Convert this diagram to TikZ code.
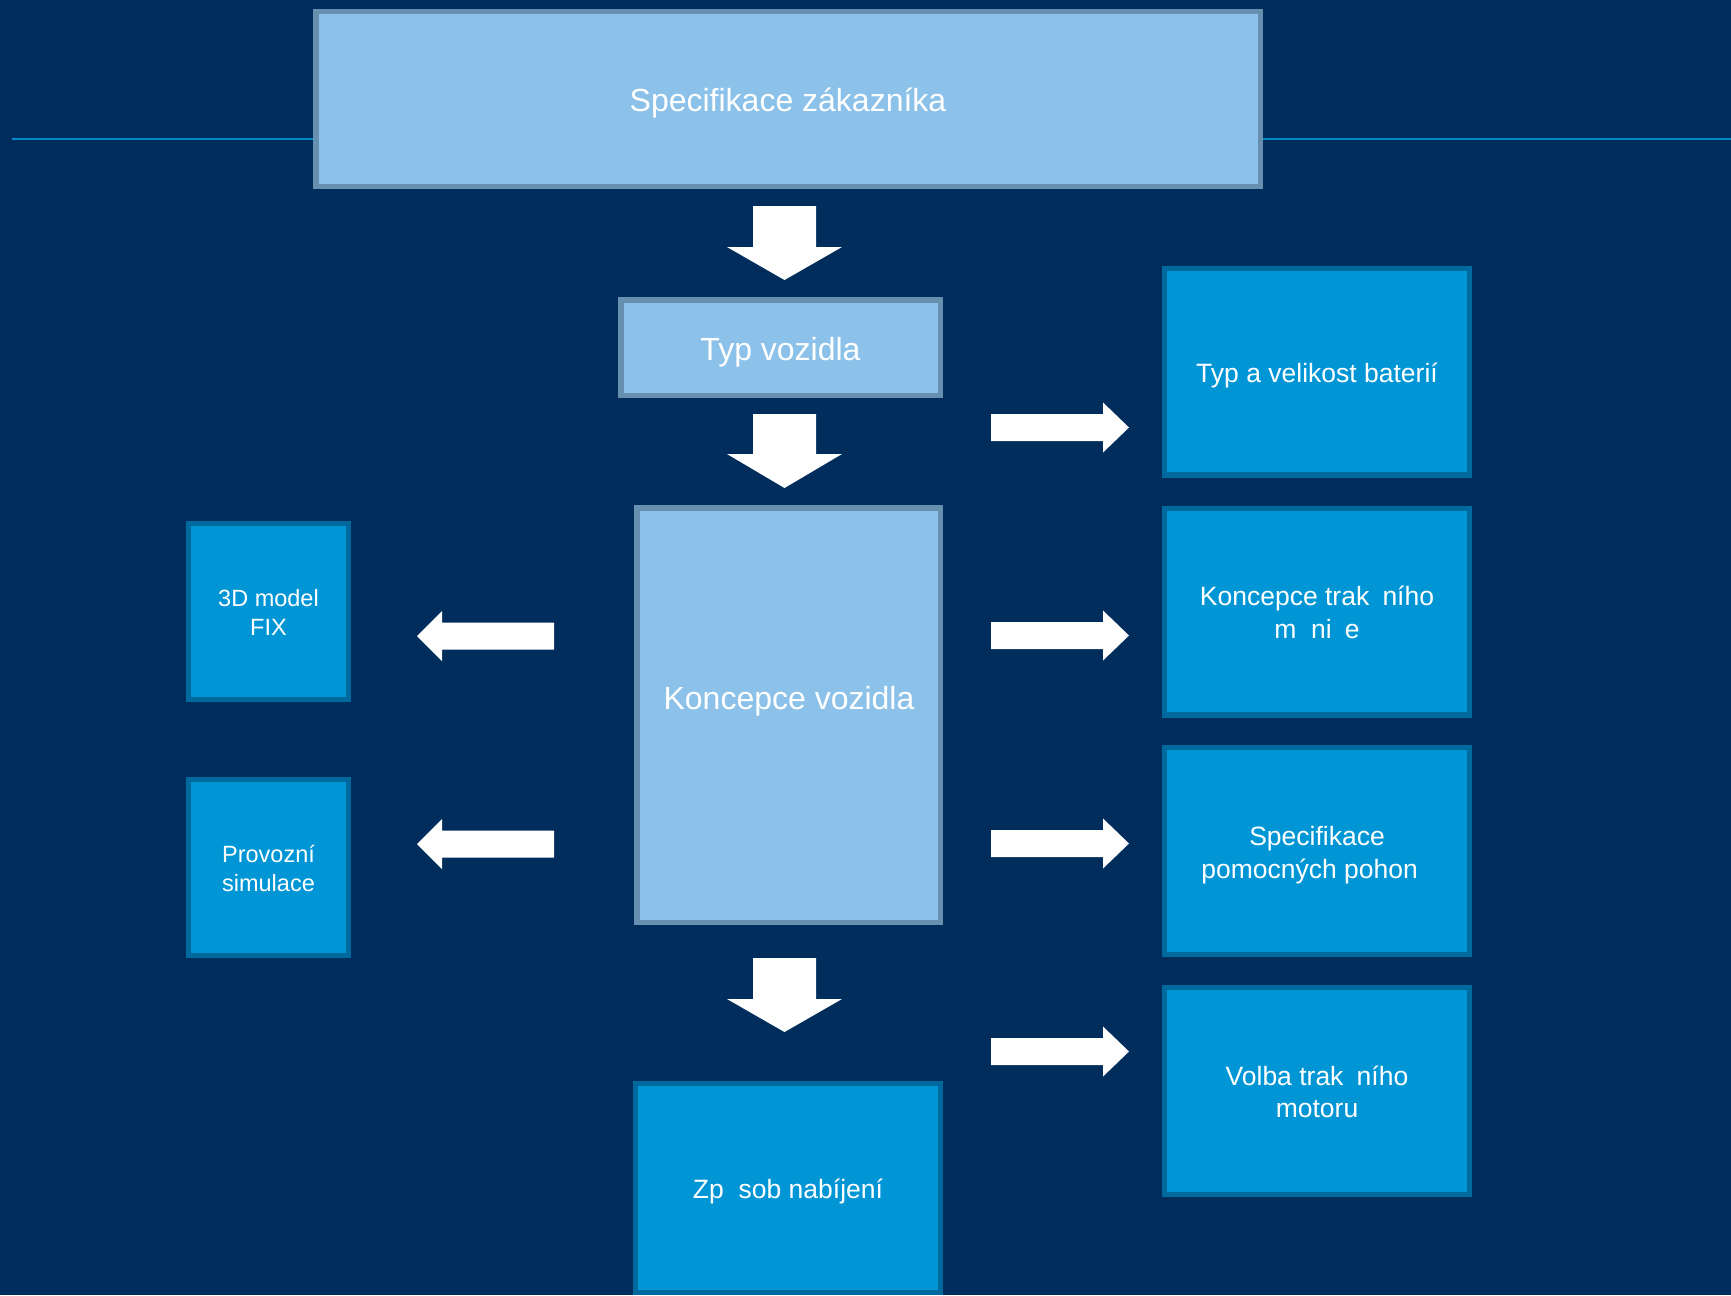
\documentclass[tikz,border=0pt]{standalone}
\usepackage{fontspec}
\setmainfont{Liberation Sans}
\usetikzlibrary{calc}
\definecolor{bgblue}{HTML}{002D5C}
\definecolor{lightfill}{HTML}{8CC2E9}
\definecolor{lightedge}{HTML}{668FB0}
\definecolor{midfill}{HTML}{0096D6}
\definecolor{midedge}{HTML}{006A9E}
\definecolor{rulecol}{HTML}{0088CC}
\newcommand{\boxstrut}{\rule[-0.2em]{0pt}{1.2em}}
\tikzset{
	lightbox/.style={draw=lightedge,fill=lightfill,line width=5.5pt,inner sep=0pt,outer sep=0pt,text=white,align=center},
	midbox/.style={draw=midedge,fill=midfill,line width=5.3pt,inner sep=0pt,outer sep=0pt,text=white,align=center},
	bigtext/.style={font=\fontsize{32}{38.4}\selectfont},
	midtext/.style={font=\fontsize{26.5}{31.8}\selectfont},
	smalltext/.style={font=\fontsize{23.5}{28.2}\selectfont},
	blockarrow/.style={fill=white}
}

\begin{document}
\begin{tikzpicture}[x=1pt,y=-1pt]
	\fill[bgblue] (0,0) rectangle (1731,1295);
	\useasboundingbox (0,0) rectangle (1731,1295);
\draw[rulecol,line width=2.5pt] (12,139) -- (1731,139);
\node[lightbox,bigtext,minimum width=944.5pt,minimum height=174.5pt] (spec) at (788,99) {\boxstrut Specifikace zákazníka};
\node[lightbox,bigtext,minimum width=319.5pt,minimum height=95.5pt] (typ) at (780.5,347.5) {\boxstrut Typ vozidla};
\node[lightbox,minimum width=303.5pt,minimum height=414.5pt] (koncepce) at (788.5,715) {};
\node[bigtext,text=white,inner sep=0pt] (koncepcetxt) at (789,697) {\boxstrut Koncepce vozidla};
	% right column
	\node[midbox,midtext,minimum width=304.7pt,minimum height=206.7pt] (baterie) at (1317,371.5) {\boxstrut Typ a velikost baterií};
	\node[midbox,midtext,minimum width=304.7pt,minimum height=206.7pt] (menic) at (1317,611.5) {\boxstrut Koncepce trak\hspace{0.5em}ního\\\boxstrut m\hspace{0.556em}ni\hspace{0.5em}e};
	\node[midbox,midtext,minimum width=304.7pt,minimum height=206.7pt] (pohony) at (1317,851) {\boxstrut Specifikace\\\boxstrut pomocných pohon\hspace*{0.556em}};
	\node[midbox,midtext,minimum width=304.7pt,minimum height=206.7pt] (motor) at (1317,1091) {\boxstrut Volba trak\hspace{0.5em}ního\\\boxstrut motoru};
	% left column
	\node[midbox,smalltext,minimum width=159.7pt,minimum height=175.7pt] (model) at (268.5,611.5) {\boxstrut 3D model\\\boxstrut FIX};
	\node[midbox,smalltext,minimum width=159.7pt,minimum height=175.7pt] (simulace) at (268.5,867.5) {\boxstrut Provozní\\\boxstrut simulace};
	\node[midbox,midtext,minimum width=304.7pt,minimum height=208.7pt] (nabijeni) at (788,1188) {\boxstrut Zp\hspace{0.556em}sob nabíjení};
	% down arrows
	\fill[blockarrow] (753,206) -- (816,206) -- (816,247) -- (842,247) -- (784.5,280) -- (727,247) -- (753,247) -- cycle;
	\fill[blockarrow] (753,414) -- (816,414) -- (816,454) -- (842,454) -- (784.5,488) -- (727,454) -- (753,454) -- cycle;
	\fill[blockarrow] (753,958) -- (816,958) -- (816,999) -- (842,999) -- (784.5,1032) -- (727,999) -- (753,999) -- cycle;
	% right arrows
	\fill[blockarrow] (991,414) -- (1103,414) -- (1103,402.5) -- (1129,427.5) -- (1103,452.5) -- (1103,441) -- (991,441) -- cycle;
	\fill[blockarrow] (991,622) -- (1103,622) -- (1103,610.5) -- (1129,635.5) -- (1103,660.5) -- (1103,649) -- (991,649) -- cycle;
	\fill[blockarrow] (991,830) -- (1103,830) -- (1103,818.5) -- (1129,843.5) -- (1103,868.5) -- (1103,857) -- (991,857) -- cycle;
	\fill[blockarrow] (991,1038) -- (1103,1038) -- (1103,1026.5) -- (1129,1051.5) -- (1103,1076.5) -- (1103,1065) -- (991,1065) -- cycle;
	% left arrows
	\fill[blockarrow] (554,622.5) -- (442,622.5) -- (442,611) -- (417,636) -- (442,661) -- (442,649.5) -- (554,649.5) -- cycle;
	\fill[blockarrow] (554,830.5) -- (442,830.5) -- (442,819) -- (417,844) -- (442,869) -- (442,857.5) -- (554,857.5) -- cycle;
\end{tikzpicture}
\end{document}
